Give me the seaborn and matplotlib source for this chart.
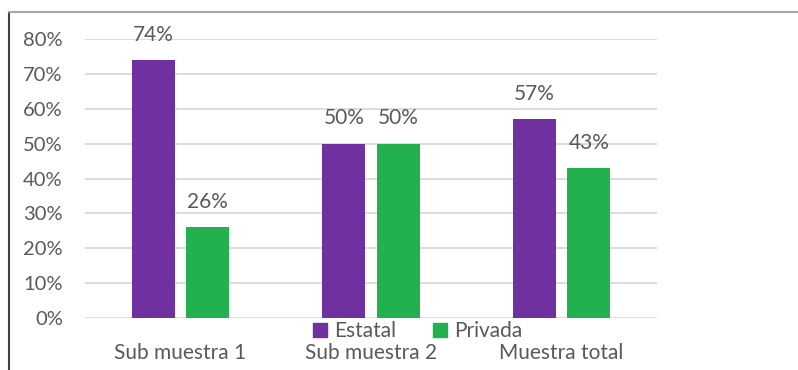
import matplotlib
matplotlib.use("Agg")
import matplotlib.pyplot as plt
import seaborn as sns
import pandas as pd
from matplotlib.lines import Line2D

categories = ["Sub muestra 1", "Sub muestra 2", "Muestra total"]
estatal = [0.74, 0.50, 0.57]
privada = [0.26, 0.50, 0.43]
series_names = ["Estatal", "Privada"]
yticks = [0, 0.1, 0.2, 0.3, 0.4, 0.5, 0.6, 0.7, 0.8]

df = pd.DataFrame({
    "cat": categories * 2,
    "val": estatal + privada,
    "serie": [series_names[0]] * 3 + [series_names[1]] * 3,
})

sns.set_theme(style="white")
plt.rcParams["font.family"] = ["Lato", "DejaVu Sans"]
TXT = "#595959"
colors = {"Estatal": "#7030A0", "Privada": "#23B04E"}

fig = plt.figure(figsize=(7.98, 3.70), dpi=100)
ax = fig.add_axes([85/798, 1-318/370, (657-85)/798, (318-39)/370])

sns.barplot(data=df, x="cat", y="val", hue="serie", order=categories,
            hue_order=series_names, palette=colors, width=0.572, gap=0.21,
            ax=ax, legend=False, saturation=1, linewidth=0)

ax.set_xlim(-0.5, 2.5)
ax.set_ylim(0, 0.8)
ax.set_yticks(yticks)
ax.set_yticklabels([f"{int(round(v*100))}%" for v in yticks], color=TXT, fontsize=14.5)
ax.tick_params(axis="x", colors=TXT, labelsize=15, length=0, pad=18)
ax.tick_params(axis="y", length=0, pad=16)
ax.set_xlabel("")
ax.set_ylabel("")
ax.grid(axis="y", color="#d9d9d9", linewidth=1.3)
ax.set_axisbelow(True)
for s in ax.spines.values():
    s.set_visible(False)

for cont in ax.containers:
    labels = [f"{int(round(b.get_height()*100))}%" for b in cont]
    ax.bar_label(cont, labels=labels, padding=11, color=TXT, fontsize=15, clip_on=False)

handles = [Line2D([0], [0], marker="s", linestyle="", markersize=9.5,
                  markerfacecolor=colors[n], markeredgecolor=colors[n]) for n in series_names]
fig.legend(handles, series_names, loc="center", bbox_to_anchor=(416/798, 1-331/370),
           ncol=2, frameon=False, fontsize=15, labelcolor=TXT, handletextpad=0.2,
           columnspacing=1.6, handlelength=1.0, borderaxespad=0, borderpad=0)

fig.add_artist(Line2D([9/798, 9/798], [0, 1-12/370], color="#404040", linewidth=1.5,
                      transform=fig.transFigure))
fig.add_artist(Line2D([9/798, 1], [1-12/370, 1-12/370], color="#a6a6a6", linewidth=1.5,
                      transform=fig.transFigure))

fig.savefig("out.png", dpi=100)
